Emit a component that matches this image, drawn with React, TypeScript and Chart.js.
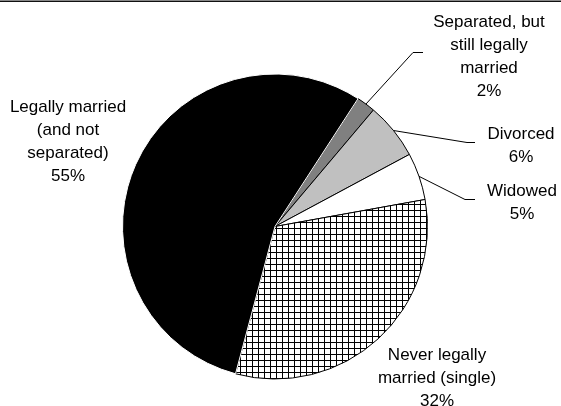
import React, { useEffect, useRef } from "react";
import { Chart, registerables } from "chart.js";

Chart.register(...registerables);

const categories = [
  "Separated, but still legally married",
  "Divorced",
  "Widowed",
  "Never legally married (single)",
  "Legally married (and not separated)",
];
const values = [2, 6, 5, 32, 55];
const percentLabels = ["2%", "6%", "5%", "32%", "55%"];
const wrappedNames = [
  ["Separated, but", "still legally", "married"],
  ["Divorced"],
  ["Widowed"],
  ["Never legally", "married (single)"],
  ["Legally married", "(and not", "separated)"],
];

// label layout: text centre x, first line y, leader elbow/end (null = no leader)
const labelLayout = [
  { x: 489, y: 22, leader: [[413, 52], [423, 52]] },
  { x: 521, y: 134, leader: [[467, 142], [475, 142]] },
  { x: 522, y: 191, leader: [[465, 199], [475, 199]] },
  { x: 437, y: 355, leader: null },
  { x: 68, y: 107, leader: null },
];

function makeHatch(): CanvasPattern | string {
  const c = document.createElement("canvas");
  c.width = 6;
  c.height = 6;
  const g = c.getContext("2d");
  if (!g) return "#fff";
  g.fillStyle = "#fff";
  g.fillRect(0, 0, 6, 6);
  g.fillStyle = "#000";
  g.fillRect(0, 0, 6, 1);
  g.fillRect(0, 0, 1, 6);
  const p = g.createPattern(c, "repeat");
  return p || "#fff";
}

const labelPlugin = {
  id: "pieLabels",
  afterDraw(chart: any) {
    const ctx = chart.ctx;
    const meta = chart.getDatasetMeta(0);
    ctx.save();
    // top frame line
    ctx.fillStyle = "#888";
    ctx.fillRect(0, 0, chart.width, 1);
    ctx.fillStyle = "#111";
    ctx.fillRect(0, 1, chart.width, 1);

    ctx.font = "17px 'Liberation Sans', Arial, sans-serif";
    ctx.textAlign = "center";
    ctx.textBaseline = "middle";
    const lh = 23;
    meta.data.forEach((arc: any, i: number) => {
      const lay = labelLayout[i];
      const lines = [...wrappedNames[i], percentLabels[i]];
      ctx.fillStyle = "#000";
      lines.forEach((t, j) => ctx.fillText(t, lay.x, lay.y + j * lh));
      if (lay.leader) {
        const mid = (arc.startAngle + arc.endAngle) / 2;
        const sx = arc.x + Math.cos(mid) * arc.outerRadius;
        const sy = arc.y + Math.sin(mid) * arc.outerRadius;
        ctx.strokeStyle = "#000";
        ctx.lineWidth = 1;
        ctx.beginPath();
        ctx.moveTo(sx, sy);
        lay.leader.forEach((p) => ctx.lineTo(p[0], p[1] + 0.5));
        ctx.stroke();
      }
    });
    ctx.restore();
  },
};

export default function App() {
  const ref = useRef<HTMLCanvasElement>(null);
  useEffect(() => {
    document.body.style.margin = "0";
    const canvas = ref.current;
    if (!canvas) return;
    const hatch = makeHatch();
    const chart = new Chart(canvas, {
      type: "pie",
      data: {
        labels: categories,
        datasets: [
          {
            data: values,
            backgroundColor: ["#808080", "#c0c0c0", "#ffffff", hatch as any, "#000000"],
            borderColor: ["#000", "#000", "#000", "#000", "#fff"],
            borderWidth: 1,
            hoverOffset: 0,
            hoverBorderWidth: 1,
          },
        ],
      },
      options: {
        responsive: false,
        animation: false,
        events: [],
        rotation: 33,
        layout: { padding: { left: 122, right: 133, top: 73, bottom: 26 } },
        plugins: {
          legend: { display: false },
          tooltip: { enabled: false },
        },
      },
      plugins: [labelPlugin],
    });
    return () => chart.destroy();
  }, []);
  return (
    <div style={{ width: 561, height: 406 }}>
      <canvas ref={ref} width={561} height={406} style={{ display: "block" }} />
    </div>
  );
}
